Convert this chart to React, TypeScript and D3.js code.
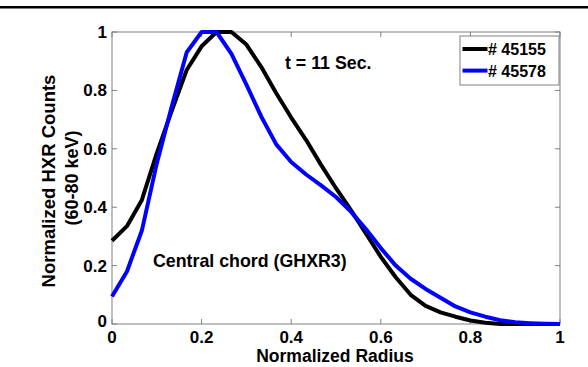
import React from "react";
import * as d3 from "d3";

const radius = d3.range(0, 31).map((i) => i / 30);
const shot45155 = [
  0.285, 0.335, 0.425, 0.585, 0.73, 0.87, 0.951, 1.0, 1.0, 0.957, 0.88,
  0.79, 0.707, 0.63, 0.545, 0.465, 0.39, 0.31, 0.23, 0.16, 0.1, 0.062,
  0.04, 0.025, 0.012, 0.004, 0, 0, 0, 0, 0,
];
const shot45578 = [
  0.094, 0.18, 0.32, 0.55, 0.745, 0.93, 1.0, 1.0, 0.925, 0.82, 0.71, 0.615,
  0.555, 0.512, 0.475, 0.435, 0.385, 0.325, 0.26, 0.2, 0.155, 0.12, 0.09,
  0.06, 0.04, 0.025, 0.013, 0.006, 0.003, 0.001, 0,
];
const xTicks = [0, 0.2, 0.4, 0.6, 0.8, 1];
const yTicks = [0, 0.2, 0.4, 0.6, 0.8, 1];
const seriesNames = ["# 45155", "# 45578"];
const seriesColors = ["#000000", "#0000ff"];

const W = 588;
const H = 367;
const L = 112, R = 560, T = 32, B = 324;
const FONT = "'Liberation Sans', Arial, Helvetica, sans-serif";

export default function App() {
  const x = d3.scaleLinear().domain([0, 1]).range([L, R]);
  const y = d3.scaleLinear().domain([0, 1]).range([B, T]);
  const line = d3
    .line<number>()
    .x((_, i) => x(radius[i]))
    .y((d) => y(d));
  const series = [shot45155, shot45578];
  const axisColor = "#808080";
  const tick = 5;
  return (
    <svg
      width={W}
      height={H}
      style={{ position: "absolute", left: 0, top: 0, background: "#fff" }}
      fontFamily={FONT}
      fontWeight="bold"
    >
      <rect x={0} y={0} width={W} height={H} fill="#fff" />
      <line x1={0} x2={W} y1={7.3} y2={7.3} stroke="#000" strokeWidth={2.6} />
      <rect x={L} y={T} width={R - L} height={B - T} fill="none" stroke={axisColor} strokeWidth={1} />
      {xTicks.map((t) => (
        <g key={"x" + t}>
          <line x1={x(t)} x2={x(t)} y1={B} y2={B - tick} stroke={axisColor} />
          <line x1={x(t)} x2={x(t)} y1={T} y2={T + tick} stroke={axisColor} />
          <text x={x(t)} y={343} textAnchor="middle" fontSize={17} fill="#000">
            {d3.format("~g")(t)}
          </text>
        </g>
      ))}
      {yTicks.map((t) => (
        <g key={"y" + t}>
          <line x1={L} x2={L + tick} y1={y(t)} y2={y(t)} stroke={axisColor} />
          <line x1={R} x2={R - tick} y1={y(t)} y2={y(t)} stroke={axisColor} />
          <text x={107} y={y(t) + (t === 0 ? 3 : 6)} textAnchor="end" fontSize={17} fill="#000">
            {d3.format("~g")(t)}
          </text>
        </g>
      ))}
      {series.map((s, i) => (
        <path key={i} d={line(s) || ""} fill="none" stroke={seriesColors[i]} strokeWidth={4} strokeLinejoin="round" />
      ))}
      <text x={335} y={362} textAnchor="middle" fontSize={17.5} fill="#000">
        Normalized Radius
      </text>
      <text transform="translate(55,181) rotate(-90)" textAnchor="middle" fontSize={18.5} fill="#000">
        Normalized HXR Counts
      </text>
      <text transform="translate(78,178) rotate(-90)" textAnchor="middle" fontSize={18} fill="#000">
        (60-80 keV)
      </text>
      <text x={285} y={69} fontSize={17.8} fill="#000">t = 11 Sec.</text>
      <text x={153} y={266.5} fontSize={17.8} fill="#000">Central chord (GHXR3)</text>
      <rect x={460} y={36} width={99} height={49} fill="#fff" stroke={axisColor} strokeWidth={1} />
      {seriesNames.map((n, i) => (
        <g key={n}>
          <line x1={462.5} x2={487.5} y1={49 + i * 21.6} y2={49 + i * 21.6} stroke={seriesColors[i]} strokeWidth={4} />
          <text x={488} y={55 + i * 21.6} fontSize={16} fill="#000">{n}</text>
        </g>
      ))}
    </svg>
  );
}
